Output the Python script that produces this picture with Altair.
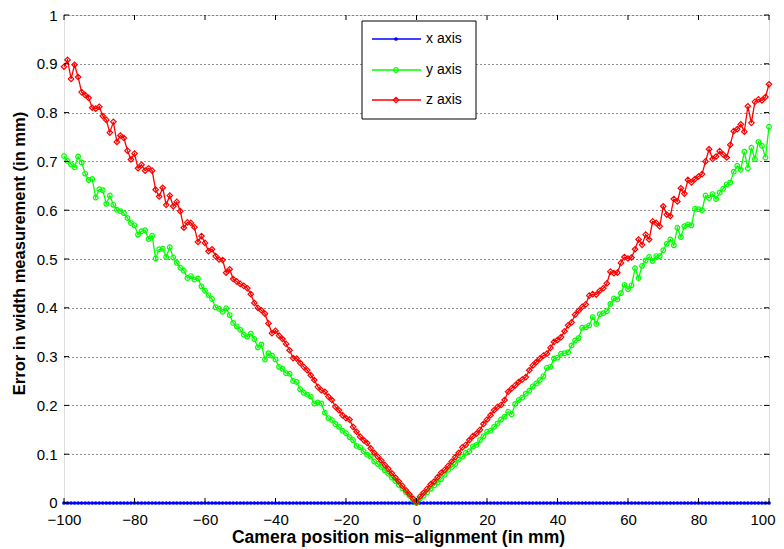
import altair as alt
import pandas as pd

# ---------------- data ----------------
x_mm = list(range(-100, 101))

x_axis_err = [0.0] * 201

y_axis_err = [
    0.711, 0.701, 0.694, 0.688, 0.710, 0.698, 0.675, 0.662, 0.664, 0.626,
    0.643, 0.641, 0.613, 0.630, 0.611, 0.601, 0.598, 0.594, 0.584, 0.574,
    0.569, 0.550, 0.557, 0.559, 0.541, 0.548, 0.501, 0.520, 0.521, 0.504,
    0.524, 0.503, 0.492, 0.482, 0.476, 0.461, 0.465, 0.458, 0.460, 0.444,
    0.435, 0.426, 0.418, 0.401, 0.398, 0.392, 0.399, 0.385, 0.369, 0.362,
    0.355, 0.345, 0.341, 0.347, 0.336, 0.319, 0.325, 0.294, 0.307, 0.302,
    0.294, 0.279, 0.275, 0.266, 0.265, 0.250, 0.248, 0.233, 0.226, 0.222,
    0.218, 0.204, 0.206, 0.204, 0.185, 0.174, 0.170, 0.162, 0.156, 0.148,
    0.143, 0.135, 0.129, 0.117, 0.114, 0.106, 0.099, 0.095, 0.085, 0.080,
    0.074, 0.067, 0.060, 0.052, 0.045, 0.037, 0.030, 0.022, 0.015, 0.007,
    0.000,
    0.009, 0.015, 0.022, 0.029, 0.036, 0.042, 0.049, 0.058, 0.068, 0.074,
    0.080, 0.089, 0.095, 0.103, 0.106, 0.116, 0.119, 0.129, 0.137, 0.146,
    0.148, 0.156, 0.163, 0.171, 0.177, 0.187, 0.182, 0.203, 0.211, 0.216,
    0.224, 0.230, 0.239, 0.245, 0.252, 0.260, 0.277, 0.279, 0.296, 0.298,
    0.306, 0.307, 0.309, 0.323, 0.333, 0.338, 0.359, 0.360, 0.364, 0.381,
    0.367, 0.387, 0.389, 0.393, 0.408, 0.419, 0.417, 0.430, 0.447, 0.438,
    0.446, 0.481, 0.461, 0.486, 0.497, 0.504, 0.496, 0.506, 0.506, 0.518,
    0.531, 0.540, 0.528, 0.564, 0.545, 0.567, 0.571, 0.569, 0.603, 0.602,
    0.600, 0.630, 0.625, 0.633, 0.623, 0.636, 0.644, 0.653, 0.657, 0.679,
    0.691, 0.683, 0.720, 0.686, 0.728, 0.705, 0.740, 0.732, 0.708, 0.771,
]

z_axis_err = [
    0.894, 0.908, 0.869, 0.898, 0.873, 0.842, 0.836, 0.830, 0.810, 0.808,
    0.812, 0.793, 0.785, 0.759, 0.781, 0.740, 0.753, 0.748, 0.722, 0.704,
    0.716, 0.686, 0.693, 0.681, 0.686, 0.681, 0.642, 0.628, 0.646, 0.611,
    0.630, 0.608, 0.617, 0.598, 0.564, 0.575, 0.574, 0.565, 0.535, 0.547,
    0.533, 0.516, 0.520, 0.506, 0.499, 0.498, 0.472, 0.479, 0.459, 0.454,
    0.449, 0.445, 0.440, 0.428, 0.410, 0.400, 0.395, 0.388, 0.368, 0.348,
    0.353, 0.343, 0.336, 0.326, 0.313, 0.297, 0.296, 0.287, 0.279, 0.272,
    0.262, 0.252, 0.238, 0.231, 0.228, 0.218, 0.211, 0.197, 0.190, 0.180,
    0.174, 0.171, 0.156, 0.146, 0.136, 0.129, 0.123, 0.112, 0.103, 0.095,
    0.087, 0.078, 0.070, 0.061, 0.052, 0.044, 0.035, 0.026, 0.018, 0.009,
    0.002,
    0.013, 0.021, 0.029, 0.038, 0.044, 0.053, 0.062, 0.068, 0.076, 0.085,
    0.094, 0.103, 0.114, 0.119, 0.129, 0.137, 0.142, 0.150, 0.162, 0.171,
    0.180, 0.190, 0.197, 0.201, 0.211, 0.228, 0.235, 0.241, 0.248, 0.253,
    0.258, 0.272, 0.282, 0.289, 0.296, 0.302, 0.306, 0.318, 0.330, 0.334,
    0.340, 0.352, 0.364, 0.370, 0.386, 0.394, 0.402, 0.407, 0.425, 0.428,
    0.427, 0.435, 0.440, 0.450, 0.474, 0.471, 0.472, 0.492, 0.504, 0.501,
    0.503, 0.520, 0.540, 0.529, 0.550, 0.540, 0.577, 0.574, 0.567, 0.608,
    0.591, 0.588, 0.623, 0.618, 0.645, 0.634, 0.662, 0.657, 0.664, 0.669,
    0.674, 0.700, 0.725, 0.705, 0.710, 0.721, 0.714, 0.708, 0.734, 0.762,
    0.766, 0.776, 0.761, 0.813, 0.779, 0.822, 0.827, 0.825, 0.832, 0.858,
]

series_names = ["x axis", "y axis", "z axis"]
series_colors = ["#0000ff", "#00ff00", "#ff0000"]

x_tick_values = [-100, -80, -60, -40, -20, 0, 20, 40, 60, 80, 100]
y_tick_values = [0, 0.1, 0.2, 0.3, 0.4, 0.5, 0.6, 0.7, 0.8, 0.9, 1]

x_title = "Camera position mis\u2212alignment (in mm)"
y_title = "Error in width measurement (in mm)"

# ---------------- layout ----------------
W, H = 705, 488
FONT = "Liberation Sans"

df = pd.DataFrame({
    "x": x_mm * 3,
    "err": x_axis_err + y_axis_err + z_axis_err,
    "series": [series_names[0]] * 201 + [series_names[1]] * 201 + [series_names[2]] * 201,
})

X = alt.X("x:Q",
          scale=alt.Scale(domain=[-100, 100], nice=False, zero=False),
          axis=alt.Axis(values=x_tick_values, title=x_title, ticks=False, domain=False,
                        grid=False, labelPadding=9, titlePadding=1, labelFontSize=15,
                        titleFontSize=17.5, titleFontWeight="bold", labelFont=FONT,
                        titleFont=FONT, labelColor="black", titleColor="black",
                        titleX=334, titleAlign="center",
                        labelFlush=False,
                        labelAlign=alt.condition("datum.value == 100", alt.value("right"), alt.value("center")),
                        labelOffset=alt.condition("datum.value == 100", alt.value(6), alt.value(0))))
Y = alt.Y("err:Q",
          scale=alt.Scale(domain=[0, 1], nice=False),
          axis=alt.Axis(values=y_tick_values, title=y_title, ticks=False, domain=False,
                        grid=True, gridDash=[1, 3], gridColor="#222", gridWidth=1,
                        labelPadding=7, titlePadding=9, labelFontSize=15,
                        titleFontSize=16.5, titleFontWeight="bold", labelFont=FONT,
                        titleFont=FONT, labelColor="black", titleColor="black",
                        titleY=238, titleAlign="center",
                        labelOffset=alt.condition("datum.value == 0", alt.value(-1), alt.value(0)),
                        format="~g", labelFlush=False))

layers = []
marker_specs = {
    "x axis": dict(shape="circle", size=14, filled=True),
    "y axis": dict(shape="circle", size=22, filled=False),
    "z axis": dict(shape="diamond", size=30, filled=False),
}
for name, color in zip(series_names, series_colors):
    d = df[df["series"] == name]
    layers.append(alt.Chart(d).mark_line(color=color, strokeWidth=1.3).encode(x=X, y=Y))
    spec = marker_specs[name]
    layers.append(alt.Chart(d).mark_point(color=color, strokeWidth=1.2, opacity=1, **spec)
                  .encode(x=X, y=Y))

# inward ticks on all four sides
xt = pd.DataFrame({"x": x_tick_values})
yt = pd.DataFrame({"err": y_tick_values})
tick_len = 5
layers.append(alt.Chart(xt).mark_rule(color="black", strokeWidth=1)
              .encode(x=X, y=alt.value(H), y2=alt.value(H - tick_len)))
layers.append(alt.Chart(xt).mark_rule(color="black", strokeWidth=1)
              .encode(x=X, y=alt.value(0), y2=alt.value(tick_len)))
layers.append(alt.Chart(yt).mark_rule(color="black", strokeWidth=1)
              .encode(y=Y, x=alt.value(0), x2=alt.value(tick_len)))
layers.append(alt.Chart(yt).mark_rule(color="black", strokeWidth=1)
              .encode(y=Y, x=alt.value(W), x2=alt.value(W - tick_len)))

# legend box
one = pd.DataFrame({"k": [0]})
lx0, lx1, ly0, ly1 = 298, 412, 6, 104
layers.append(alt.Chart(one).mark_rect(fill="white", stroke="black", strokeWidth=1)
              .encode(x=alt.value(lx0), x2=alt.value(lx1), y=alt.value(ly0), y2=alt.value(ly1)))
row_y = [24, 55, 85]
for name, color, ry in zip(series_names, series_colors, row_y):
    spec = marker_specs[name]
    layers.append(alt.Chart(one).mark_rule(color=color, strokeWidth=1.3)
                  .encode(x=alt.value(lx0 + 10), x2=alt.value(lx0 + 59), y=alt.value(ry)))
    layers.append(alt.Chart(one).mark_point(color=color, strokeWidth=1.2, opacity=1, **spec)
                  .encode(x=alt.value(lx0 + 34), y=alt.value(ry)))
    layers.append(alt.Chart(one).mark_text(align="left", baseline="middle", fontSize=14,
                                           font=FONT, color="black")
                  .encode(x=alt.value(lx0 + 64), y=alt.value(ry), text=alt.value(name)))

chart = alt.layer(*layers).properties(
    width=W, height=H,
    autosize=alt.AutoSizeParams(type="none"),
    padding={"left": 56, "top": 7, "right": 7, "bottom": 46},
).configure_view(stroke="black", strokeWidth=1).configure(background="white")

chart.save("out.html", embed_options={"renderer": "svg", "actions": False})
